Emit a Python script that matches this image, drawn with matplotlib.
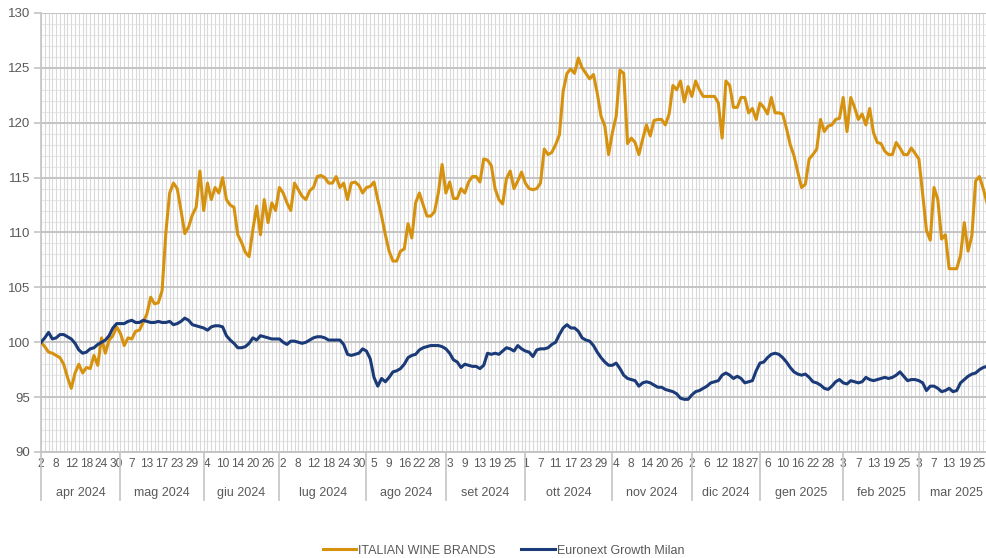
import matplotlib
matplotlib.use("Agg")
import matplotlib.pyplot as plt
import matplotlib.transforms as mtransforms
import numpy as np
import pandas as pd

plt.rcParams['font.family'] = ['Liberation Sans', 'DejaVu Sans']

#------------------------------------------------------------------------
# Data (base 100 on 2 apr 2024) -----------------------------------------
#------------------------------------------------------------------------
first_day = '2024-04-02'
last_day = '2025-03-31'
closed_days = ['2024-05-01', '2024-08-15', '2024-12-24', '2024-12-25',
               '2024-12-26', '2024-12-31', '2025-01-01']

iwb = [100.0, 99.6, 99.1, 99.0, 98.8, 98.6, 98.0, 96.8, 95.8, 97.2,
       98.0, 97.2, 97.7, 97.6, 98.8, 97.9, 100.4, 99.0, 100.2, 100.6,
       101.4, 100.8, 99.7, 100.4, 100.3, 101.0, 101.1, 101.8, 102.6, 104.1,
       103.5, 103.6, 104.7, 110.0, 113.6, 114.5, 114.0, 112.0, 109.9, 110.5,
       111.6, 112.3, 115.6, 112.0, 114.5, 113.0, 114.1, 113.6, 115.0, 113.0,
       112.5, 112.3, 109.8, 109.1, 108.2, 107.8, 110.3, 112.4, 109.8, 113.0,
       110.9, 112.7, 112.0, 114.1, 113.6, 112.7, 112.0, 114.5, 113.9, 113.3,
       113.0, 113.8, 114.1, 115.1, 115.2, 115.0, 114.5, 114.5, 115.1, 114.1,
       114.5, 113.0, 114.5, 114.6, 114.3, 113.6, 114.1, 114.2, 114.6, 113.0,
       111.5, 109.8, 108.3, 107.4, 107.4, 108.3, 108.5, 110.8, 109.5, 112.7,
       113.6, 112.5, 111.5, 111.5, 111.9, 113.6, 116.2, 113.6, 114.6, 113.1,
       113.1, 114.0, 113.6, 114.6, 115.1, 115.1, 114.6, 116.7, 116.6, 116.1,
       114.0, 113.0, 112.6, 114.9, 115.6, 114.0, 114.7, 115.5, 114.5, 114.0,
       113.9, 114.0, 114.5, 117.6, 117.1, 117.3, 118.0, 118.9, 122.9, 124.5,
       124.9, 124.5, 125.9, 125.0, 124.5, 124.0, 124.4, 122.7, 120.6, 119.7,
       117.1, 119.1, 120.6, 124.8, 124.5, 118.1, 118.6, 118.2, 117.1, 118.5,
       119.8, 118.8, 120.2, 120.3, 120.3, 119.8, 120.8, 123.4, 123.0, 123.8,
       121.9, 123.3, 122.4, 123.8, 123.0, 122.4, 122.4, 122.4, 122.4, 121.8,
       118.6, 123.8, 123.4, 121.4, 121.4, 122.3, 122.3, 120.9, 121.3, 120.3,
       121.8, 121.4, 120.8, 122.3, 120.9, 120.9, 120.8, 119.5, 118.0, 117.0,
       115.5, 114.1, 114.4, 116.7, 117.1, 117.6, 120.3, 119.2, 119.7, 119.8,
       120.3, 120.4, 122.3, 119.2, 122.3, 121.4, 120.3, 120.8, 119.8, 121.3,
       119.1, 118.2, 118.1, 117.4, 117.1, 117.1, 118.2, 117.7, 117.1, 117.1,
       117.7, 117.2, 116.7, 113.5, 110.2, 109.3, 114.1, 113.0, 109.4, 109.8,
       106.7, 106.7, 106.7, 107.9, 110.9, 108.3, 109.7, 114.7, 115.1, 114.0,
       112.7]

egm = [100.0, 100.4, 100.9, 100.3, 100.4, 100.7, 100.7, 100.5, 100.3, 99.9,
       99.3, 99.0, 99.1, 99.4, 99.5, 99.8, 100.0, 100.2, 100.6, 101.3,
       101.7, 101.7, 101.7, 101.9, 102.0, 101.8, 101.8, 102.0, 101.9, 101.8,
       101.8, 101.9, 101.8, 101.8, 101.9, 101.6, 101.7, 101.9, 102.2, 102.0,
       101.6, 101.5, 101.4, 101.3, 101.1, 101.4, 101.5, 101.5, 101.4, 100.6,
       100.2, 99.9, 99.5, 99.5, 99.6, 99.9, 100.4, 100.2, 100.6, 100.5,
       100.4, 100.3, 100.3, 100.3, 100.0, 99.8, 100.1, 100.1, 100.0, 99.9,
       100.0, 100.2, 100.4, 100.5, 100.5, 100.4, 100.2, 100.2, 100.2, 100.2,
       99.8, 98.9, 98.8, 98.9, 99.0, 99.4, 99.2, 98.5, 96.8, 96.0,
       96.7, 96.4, 96.8, 97.3, 97.4, 97.6, 98.0, 98.6, 98.8, 98.9,
       99.3, 99.5, 99.6, 99.7, 99.7, 99.7, 99.6, 99.4, 99.0, 98.4,
       98.2, 97.7, 98.0, 97.9, 97.8, 97.8, 97.6, 97.9, 99.0, 98.9,
       99.0, 98.9, 99.2, 99.5, 99.4, 99.2, 99.7, 99.4, 99.2, 99.1,
       98.7, 99.3, 99.4, 99.4, 99.5, 99.8, 100.0, 100.7, 101.3, 101.6,
       101.3, 101.3, 101.0, 100.4, 100.2, 100.1, 99.7, 99.1, 98.6, 98.2,
       97.9, 97.9, 98.1, 97.6, 97.0, 96.7, 96.6, 96.5, 96.0, 96.3,
       96.4, 96.3, 96.1, 95.9, 95.9, 95.7, 95.6, 95.5, 95.3, 94.9,
       94.8, 94.8, 95.2, 95.5, 95.6, 95.8, 96.0, 96.3, 96.4, 96.5,
       97.0, 97.2, 97.0, 96.7, 96.9, 96.7, 96.3, 96.4, 96.5, 97.4,
       98.1, 98.2, 98.6, 98.9, 99.0, 98.9, 98.6, 98.2, 97.7, 97.3,
       97.1, 97.0, 97.1, 96.8, 96.4, 96.3, 96.1, 95.8, 95.7, 96.0,
       96.4, 96.6, 96.3, 96.2, 96.5, 96.4, 96.3, 96.4, 96.8, 96.6,
       96.5, 96.6, 96.7, 96.8, 96.7, 96.8, 97.0, 97.3, 96.9, 96.5,
       96.6, 96.6, 96.5, 96.3, 95.6, 96.0, 96.0, 95.8, 95.5, 95.6,
       95.8, 95.5, 95.6, 96.3, 96.6, 96.9, 97.1, 97.2, 97.5, 97.7,
       97.8]

month_names = ['gen', 'feb', 'mar', 'apr', 'mag', 'giu',
               'lug', 'ago', 'set', 'ott', 'nov', 'dic']

label_iwb = 'ITALIAN WINE BRANDS'
label_egm = 'Euronext Growth Milan'

#------------------------------------------------------------------------
# Trading calendar ------------------------------------------------------
#------------------------------------------------------------------------
days = pd.bdate_range(first_day, last_day)
days = days[~days.isin(pd.to_datetime(closed_days))]
n_days = len(days)
x = np.arange(len(iwb))

#------------------------------------------------------------------------
# Figure ----------------------------------------------------------------
#------------------------------------------------------------------------
fig = plt.figure(figsize=(9.87, 5.58), dpi=100)
# plot area runs a little past the right edge (the chart is cropped)
ax = fig.add_axes([41/987, 106/558, ((n_days - 1)*3.784)/987, 439/558])

grey_txt = '#595959'
grey_major = '#c4c4c4'
grey_minor = '#e6e6e6'
grey_vert = '#d9d9d9'

# grid ==================================================================
ax.hlines(np.arange(90, 131, 1), 0, n_days - 1, color=grey_minor, lw=0.8, zorder=0)
ax.vlines(np.arange(n_days), 90, 130, color=grey_vert, lw=0.8, zorder=0)
ax.hlines(np.arange(90, 131, 5), 0, n_days - 1, color=grey_major, lw=1.4, zorder=1)

# series ================================================================
ax.plot(x, iwb, color='#D6920E', lw=2.2, label=label_iwb, zorder=3,
        solid_joinstyle='round')
ax.plot(x, egm, color='#1B3A78', lw=2.2, label=label_egm, zorder=4,
        solid_joinstyle='round')

ax.set_xlim(0, n_days - 1)
ax.set_ylim(90, 130)

# y axis ================================================================
ax.set_yticks(np.arange(90, 131, 5))
ax.tick_params(axis='y', length=5, width=1.2, color=grey_major, pad=3,
               labelsize=9.5, labelcolor=grey_txt)

for s in ['top', 'right']:
    ax.spines[s].set_visible(False)
ax.spines['left'].set_color(grey_major)
ax.spines['bottom'].set_color(grey_major)
ax.spines['left'].set_linewidth(1.2)
ax.spines['bottom'].set_linewidth(1.4)

# x axis: days every 4 sessions, months below ===========================
pos = list(range(0, n_days, 4))
ax.set_xticks(pos)
ax.set_xticklabels([str(days[p].day) for p in pos])
ax.tick_params(axis='x', length=0, pad=4, labelsize=8.6, labelcolor=grey_txt)

trans = mtransforms.blended_transform_factory(ax.transData, ax.transAxes)

month_id = days.year*12 + days.month
starts = [0] + [k for k in range(1, n_days) if month_id[k] != month_id[k-1]]
ends = starts[1:] + [n_days - 1]

for a, b in zip(starts, ends):
    ax.plot([a, a], [0, -0.11], color=grey_major, lw=1.2, transform=trans,
            clip_on=False)
    d = days[a]
    ax.text((a + b)/2, -0.093, month_names[d.month - 1] + ' ' + str(d.year),
            transform=trans, ha='center', va='center', fontsize=9,
            color=grey_txt)

# legend ================================================================
leg = fig.legend(loc='lower center', bbox_to_anchor=(0.51, -0.018), ncol=2,
                 frameon=False, fontsize=9, handlelength=2.7,
                 handletextpad=0.15, columnspacing=2.0)
for t in leg.get_texts():
    t.set_color(grey_txt)

plt.savefig('out.png', dpi=100)
